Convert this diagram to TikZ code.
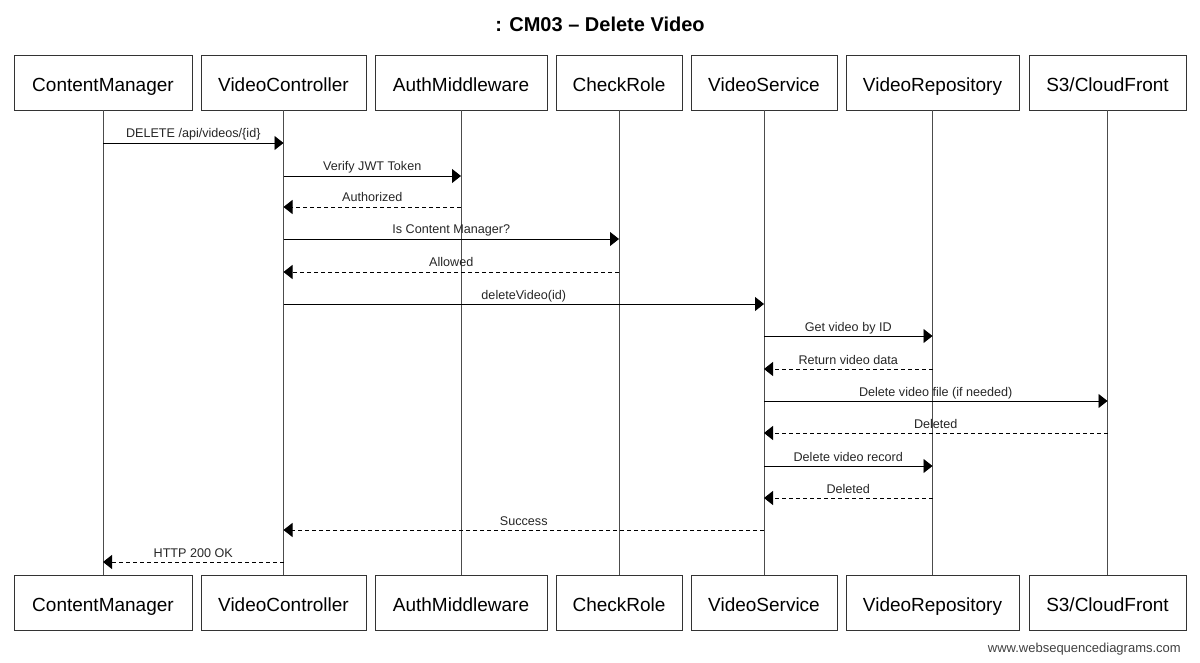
\documentclass[tikz,border=0pt]{standalone}
\usepackage{fontspec}
\setmainfont{Liberation Sans}
\usetikzlibrary{arrows.meta}
\newcommand{\seqmsg}[5]{\draw[#5] (#1 |- 0,#3) -- (#2 |- 0,#3) node[lbl, midway, anchor=base, yshift=5pt]{#4};}
\begin{document}
\begin{tikzpicture}[x=1pt, y=-1pt,
  actor/.style={draw=black!80, line width=0.9pt, minimum height=55pt, inner sep=0pt, text height=18pt, text depth=0pt, font=\fontsize{19}{22}\selectfont},
  life/.style={draw=black!70, line width=0.9pt},
  lbl/.style={font=\fontsize{12.6}{14}\selectfont, inner sep=0pt, text=black!85},
  call/.style={line width=0.9pt, -{Triangle[length=9pt,width=14pt]}},
  ret/.style={line width=0.9pt, dash pattern=on 4pt off 3pt, -{Triangle[length=9pt,width=14pt]}}
]
\useasboundingbox (0,0) rectangle (1200,663);
\node[font=\bfseries\fontsize{20}{24}\selectfont, anchor=base] (title) at (600,32) {: CM03 – Delete Video};
% top boxes
\node[actor, minimum width=178pt] (cmT) at (103,82.5) {ContentManager};
\node[actor, minimum width=165pt] (vcT) at (283.5,82.5) {VideoController};
\node[actor, minimum width=172pt] (amT) at (461,82.5) {AuthMiddleware};
\node[actor, minimum width=126pt] (crT) at (619,82.5) {CheckRole};
\node[actor, minimum width=146pt] (vsT) at (764,82.5) {VideoService};
\node[actor, minimum width=173pt] (vrT) at (932.5,82.5) {VideoRepository};
\node[actor, minimum width=157pt] (s3T) at (1107.5,82.5) {S3/CloudFront};
% bottom boxes
\node[actor, minimum width=178pt] (cmB) at (103,602.5) {ContentManager};
\node[actor, minimum width=165pt] (vcB) at (283.5,602.5) {VideoController};
\node[actor, minimum width=172pt] (amB) at (461,602.5) {AuthMiddleware};
\node[actor, minimum width=126pt] (crB) at (619,602.5) {CheckRole};
\node[actor, minimum width=146pt] (vsB) at (764,602.5) {VideoService};
\node[actor, minimum width=173pt] (vrB) at (932.5,602.5) {VideoRepository};
\node[actor, minimum width=157pt] (s3B) at (1107.5,602.5) {S3/CloudFront};
% lifelines
\foreach \p in {cm,vc,am,cr,vs,vr,s3}{\draw[life] (\p T.south) -- (\p B.north);}
% messages
\seqmsg{cmT}{vcT}{143}{DELETE /api/videos/\{id\}}{call}
\seqmsg{vcT}{amT}{176}{Verify JWT Token}{call}
\seqmsg{amT}{vcT}{207}{Authorized}{ret}
\seqmsg{vcT}{crT}{239}{Is Content Manager?}{call}
\seqmsg{crT}{vcT}{272}{Allowed}{ret}
\seqmsg{vcT}{vsT}{304}{deleteVideo(id)}{call}
\seqmsg{vsT}{vrT}{336}{Get video by ID}{call}
\seqmsg{vrT}{vsT}{369}{Return video data}{ret}
\seqmsg{vsT}{s3T}{401}{Delete video file (if needed)}{call}
\seqmsg{s3T}{vsT}{433}{Deleted}{ret}
\seqmsg{vsT}{vrT}{466}{Delete video record}{call}
\seqmsg{vrT}{vsT}{498}{Deleted}{ret}
\seqmsg{vsT}{vcT}{530}{Success}{ret}
\seqmsg{vcT}{cmT}{562}{HTTP 200 OK}{ret}
\node[font=\fontsize{13}{15}\selectfont, text=black!75, anchor=base east, inner sep=0pt] (wm) at (1181,652) {www.websequencediagrams.com};
\end{tikzpicture}
\end{document}
